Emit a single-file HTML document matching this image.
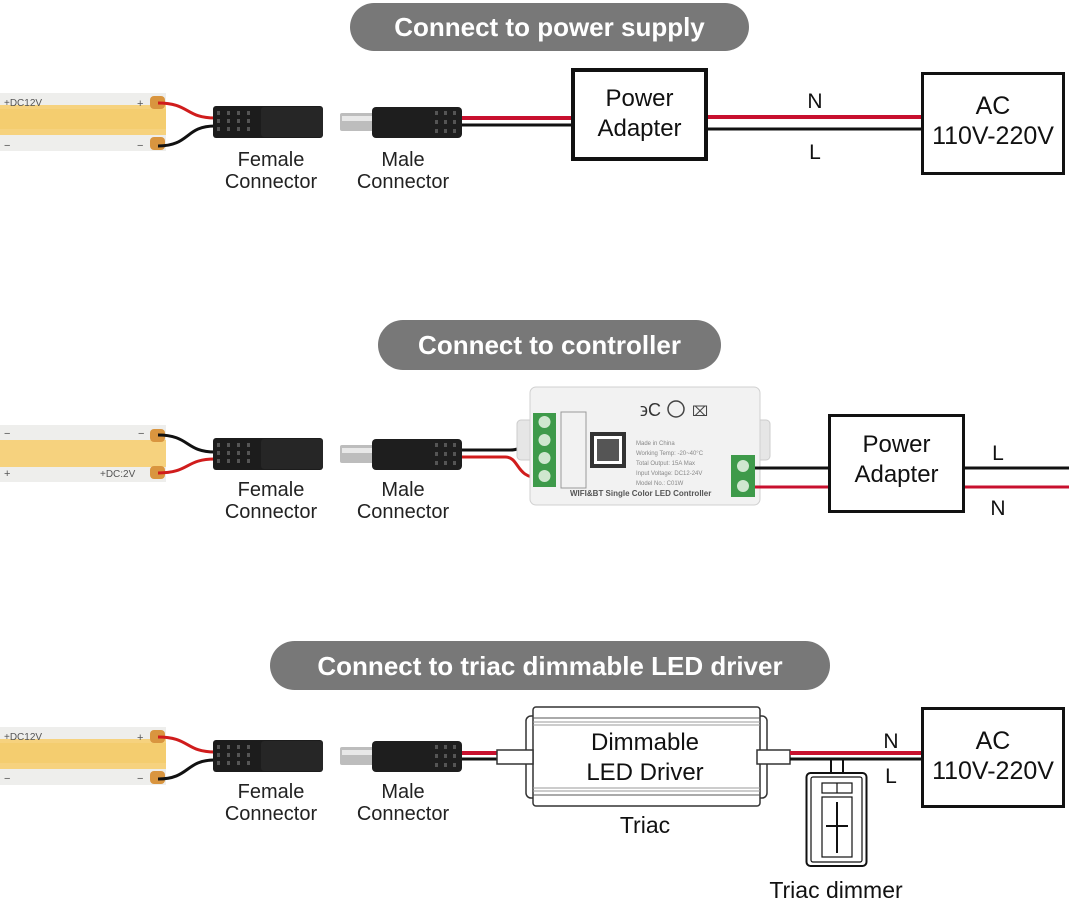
<!DOCTYPE html>
<html><head><meta charset="utf-8">
<style>
html,body{margin:0;padding:0;background:#fff;}
svg{display:block;}
text{font-family:"Liberation Sans","DejaVu Sans",sans-serif;}
</style></head>
<body>
<svg width="1069" height="901" viewBox="0 0 1069 901" xmlns="http://www.w3.org/2000/svg">
<defs>
  <g id="strip">
    <rect x="0" y="0" width="166" height="58" fill="#eeeeec"/>
    <rect x="0" y="12" width="166" height="30" fill="#f6d27e"/>
    <rect x="0" y="16" width="166" height="20" fill="#f3c965" opacity="0.6"/>
    <rect x="150" y="3" width="15" height="13" rx="4" fill="#d9953f"/>
    <rect x="150" y="44" width="15" height="13" rx="4" fill="#d9953f"/>
  </g>
  <g id="female">
    <rect x="0" y="0" width="110" height="32" rx="3" fill="#1c1c1c"/>
    <g fill="#555">
      <rect x="4" y="5" width="3" height="4"/><rect x="4" y="13" width="3" height="4"/><rect x="4" y="21" width="3" height="4"/>
      <rect x="14" y="5" width="3" height="4"/><rect x="14" y="13" width="3" height="4"/><rect x="14" y="21" width="3" height="4"/>
      <rect x="24" y="5" width="3" height="4"/><rect x="24" y="13" width="3" height="4"/><rect x="24" y="21" width="3" height="4"/>
      <rect x="34" y="5" width="3" height="4"/><rect x="34" y="13" width="3" height="4"/><rect x="34" y="21" width="3" height="4"/>
    </g>
    <rect x="48" y="1" width="62" height="30" rx="3" fill="#262626"/>
  </g>
  <g id="male">
    <rect x="0" y="6" width="34" height="18" rx="2" fill="#bdbdbd"/>
    <rect x="2" y="9" width="30" height="5" fill="#e8e8e8"/>
    <rect x="32" y="0" width="90" height="31" rx="4" fill="#1e1e1e"/>
    <g fill="#555">
      <rect x="95" y="4" width="3" height="4"/><rect x="95" y="13" width="3" height="4"/><rect x="95" y="22" width="3" height="4"/>
      <rect x="104" y="4" width="3" height="4"/><rect x="104" y="13" width="3" height="4"/><rect x="104" y="22" width="3" height="4"/>
      <rect x="113" y="4" width="3" height="4"/><rect x="113" y="13" width="3" height="4"/><rect x="113" y="22" width="3" height="4"/>
    </g>
  </g>
</defs>

<!-- ===== Section 1 ===== -->
<rect x="350" y="3" width="399" height="48" rx="24" fill="#787878"/>
<text x="549.5" y="36" font-size="26" font-weight="bold" fill="#fff" text-anchor="middle">Connect to power supply</text>
<use href="#strip" x="0" y="93"/>
<text x="4" y="106" font-size="10" fill="#555">+DC12V</text>
<text x="137" y="107" font-size="11" fill="#555">+</text>
<text x="4" y="149" font-size="11" fill="#555">−</text>
<text x="137" y="149" font-size="11" fill="#555">−</text>
<path d="M158 103 C190 103,185 118,215 118" stroke="#d01c1c" stroke-width="3" fill="none"/>
<path d="M158 146 C190 146,185 126,215 126" stroke="#111" stroke-width="3" fill="none"/>
<use href="#female" x="213" y="106"/>
<use href="#male" x="340" y="107"/>
<line x1="462" y1="118" x2="572" y2="118" stroke="#c8102e" stroke-width="4"/>
<line x1="462" y1="125" x2="572" y2="125" stroke="#111" stroke-width="3"/>
<text x="271" y="166" font-size="20" fill="#222" text-anchor="middle">Female</text>
<text x="271" y="188" font-size="20" fill="#222" text-anchor="middle">Connector</text>
<text x="403" y="166" font-size="20" fill="#222" text-anchor="middle">Male</text>
<text x="403" y="188" font-size="20" fill="#222" text-anchor="middle">Connector</text>
<rect x="573" y="70" width="133" height="89" fill="#fff" stroke="#111" stroke-width="4"/>
<text x="639.5" y="106" font-size="24" fill="#111" text-anchor="middle">Power</text>
<text x="639.5" y="136" font-size="24" fill="#111" text-anchor="middle">Adapter</text>
<line x1="708" y1="117" x2="922" y2="117" stroke="#c8102e" stroke-width="4"/>
<line x1="708" y1="129" x2="922" y2="129" stroke="#111" stroke-width="3"/>
<text x="815" y="108" font-size="21" fill="#111" text-anchor="middle">N</text>
<text x="815" y="159" font-size="21" fill="#111" text-anchor="middle">L</text>
<rect x="922.5" y="73.5" width="141" height="100" fill="#fff" stroke="#111" stroke-width="3"/>
<text x="993" y="114" font-size="25" fill="#111" text-anchor="middle">AC</text>
<text x="993" y="144" font-size="25" fill="#111" text-anchor="middle">110V-220V</text>

<!-- ===== Section 2 ===== -->
<rect x="378" y="320" width="343" height="50" rx="25" fill="#787878"/>
<text x="549.5" y="354" font-size="26" font-weight="bold" fill="#fff" text-anchor="middle">Connect to controller</text>
<rect x="0" y="425" width="166" height="57" fill="#eeeeec"/>
<rect x="0" y="440" width="166" height="27" fill="#f6d27e"/>
<rect x="150" y="429" width="15" height="13" rx="4" fill="#d9953f"/>
<rect x="150" y="466" width="15" height="13" rx="4" fill="#d9953f"/>
<text x="4" y="437" font-size="11" fill="#555">−</text>
<text x="138" y="437" font-size="11" fill="#555">−</text>
<text x="4" y="477" font-size="11" fill="#555">+</text>
<text x="100" y="477" font-size="10" fill="#555">+DC:2V</text>
<path d="M158 435 C190 435,185 452,215 452" stroke="#111" stroke-width="3" fill="none"/>
<path d="M158 473 C190 473,185 459,215 459" stroke="#d01c1c" stroke-width="3" fill="none"/>
<use href="#female" x="213" y="438"/>
<use href="#male" x="340" y="439"/>
<path d="M462 450 L510 450 C525 450,525 440,540 440" stroke="#111" stroke-width="3" fill="none"/>
<path d="M462 457 L505 457 C520 457,515 478,540 478" stroke="#d01c1c" stroke-width="3" fill="none"/>
<text x="271" y="496" font-size="20" fill="#222" text-anchor="middle">Female</text>
<text x="271" y="518" font-size="20" fill="#222" text-anchor="middle">Connector</text>
<text x="403" y="496" font-size="20" fill="#222" text-anchor="middle">Male</text>
<text x="403" y="518" font-size="20" fill="#222" text-anchor="middle">Connector</text>
<!-- controller -->
<rect x="517" y="420" width="20" height="40" rx="4" fill="#e6e6e6" stroke="#ccc"/>
<rect x="750" y="420" width="20" height="40" rx="4" fill="#e6e6e6" stroke="#ccc"/>
<rect x="530" y="387" width="230" height="118" rx="6" fill="#f2f2f2" stroke="#d0d0d0"/>
<rect x="533" y="413" width="23" height="74" fill="#3e9a4a"/>
<circle cx="544.5" cy="422" r="6" fill="#cfe7cf"/><circle cx="544.5" cy="440" r="6" fill="#cfe7cf"/>
<circle cx="544.5" cy="458" r="6" fill="#cfe7cf"/><circle cx="544.5" cy="476" r="6" fill="#cfe7cf"/>
<rect x="561" y="412" width="25" height="76" fill="none" stroke="#999" stroke-width="1"/>
<rect x="590" y="432" width="36" height="36" fill="#333"/>
<rect x="594" y="436" width="28" height="28" fill="#fff"/>
<rect x="597" y="439" width="22" height="22" fill="#555"/>
<g fill="#888" font-size="6">
<text x="636" y="445">Made in China</text>
<text x="636" y="455">Working Temp: -20~40°C</text>
<text x="636" y="465">Total Output: 15A Max</text>
<text x="636" y="475">Input Voltage: DC12-24V</text>
<text x="636" y="485">Model No.: C01W</text>
</g>
<text x="570" y="496" font-size="8" font-weight="bold" fill="#555">WIFI&amp;BT Single Color LED Controller</text>
<text x="640" y="416" font-size="18" fill="#333">϶C</text>
<circle cx="676" cy="409" r="8" fill="none" stroke="#444" stroke-width="1.5"/>
<text x="692" y="416" font-size="14" fill="#444">⌧</text>
<rect x="731" y="455" width="24" height="42" fill="#3e9a4a"/>
<circle cx="743" cy="466" r="6" fill="#cfe7cf"/><circle cx="743" cy="486" r="6" fill="#cfe7cf"/>
<line x1="755" y1="468" x2="1069" y2="468" stroke="#111" stroke-width="3"/>
<line x1="755" y1="487" x2="1069" y2="487" stroke="#c8102e" stroke-width="3"/>
<rect x="829.5" y="415.5" width="134" height="96" fill="#fff" stroke="#111" stroke-width="3"/>
<text x="896.5" y="452" font-size="24" fill="#111" text-anchor="middle">Power</text>
<text x="896.5" y="482" font-size="24" fill="#111" text-anchor="middle">Adapter</text>
<text x="998" y="460" font-size="21" fill="#111" text-anchor="middle">L</text>
<text x="998" y="515" font-size="21" fill="#111" text-anchor="middle">N</text>

<!-- ===== Section 3 ===== -->
<rect x="270" y="641" width="560" height="49" rx="24.5" fill="#787878"/>
<text x="550" y="675" font-size="26" font-weight="bold" fill="#fff" text-anchor="middle">Connect to triac dimmable LED driver</text>
<use href="#strip" x="0" y="727"/>
<text x="4" y="740" font-size="10" fill="#555">+DC12V</text>
<text x="137" y="741" font-size="11" fill="#555">+</text>
<text x="4" y="782" font-size="11" fill="#555">−</text>
<text x="137" y="782" font-size="11" fill="#555">−</text>
<path d="M158 737 C190 737,185 752,215 752" stroke="#d01c1c" stroke-width="3" fill="none"/>
<path d="M158 779 C190 779,185 760,215 760" stroke="#111" stroke-width="3" fill="none"/>
<use href="#female" x="213" y="740"/>
<use href="#male" x="340" y="741"/>
<line x1="462" y1="753" x2="500" y2="753" stroke="#c8102e" stroke-width="4"/>
<line x1="462" y1="759" x2="500" y2="759" stroke="#111" stroke-width="3"/>
<text x="271" y="798" font-size="20" fill="#222" text-anchor="middle">Female</text>
<text x="271" y="820" font-size="20" fill="#222" text-anchor="middle">Connector</text>
<text x="403" y="798" font-size="20" fill="#222" text-anchor="middle">Male</text>
<text x="403" y="820" font-size="20" fill="#222" text-anchor="middle">Connector</text>
<!-- driver -->
<rect x="526" y="716" width="12" height="82" rx="5" fill="#fff" stroke="#333" stroke-width="1.5"/>
<rect x="755" y="716" width="12" height="82" rx="5" fill="#fff" stroke="#333" stroke-width="1.5"/>
<rect x="533" y="707" width="227" height="99" rx="3" fill="#fff" stroke="#333" stroke-width="1.5"/>
<line x1="533" y1="718" x2="760" y2="718" stroke="#555"/>
<line x1="533" y1="722" x2="760" y2="722" stroke="#999"/>
<line x1="533" y1="725" x2="760" y2="725" stroke="#999"/>
<line x1="533" y1="788" x2="760" y2="788" stroke="#999"/>
<line x1="533" y1="791" x2="760" y2="791" stroke="#999"/>
<line x1="533" y1="795" x2="760" y2="795" stroke="#555"/>
<rect x="497" y="750" width="36" height="14" fill="#fff" stroke="#333" stroke-width="1.5"/>
<rect x="757" y="750" width="33" height="14" fill="#fff" stroke="#333" stroke-width="1.5"/>
<text x="645" y="750" font-size="24" fill="#111" text-anchor="middle">Dimmable</text>
<text x="645" y="780" font-size="24" fill="#111" text-anchor="middle">LED Driver</text>
<text x="645" y="833" font-size="23" fill="#111" text-anchor="middle">Triac</text>
<line x1="790" y1="753" x2="922" y2="753" stroke="#c8102e" stroke-width="4"/>
<line x1="790" y1="759" x2="922" y2="759" stroke="#111" stroke-width="3"/>
<text x="891" y="748" font-size="21" fill="#111" text-anchor="middle">N</text>
<text x="891" y="783" font-size="21" fill="#111" text-anchor="middle">L</text>
<line x1="831" y1="759" x2="831" y2="773" stroke="#111" stroke-width="2"/>
<line x1="843" y1="759" x2="843" y2="773" stroke="#111" stroke-width="2"/>
<rect x="806.5" y="773" width="60" height="93" rx="4" fill="#fff" stroke="#111" stroke-width="2"/>
<rect x="811" y="777" width="51" height="85" rx="2" fill="#fff" stroke="#111" stroke-width="1.2"/>
<rect x="822" y="783" width="30" height="10" fill="#fff" stroke="#111" stroke-width="1.2"/>
<line x1="837" y1="783" x2="837" y2="793" stroke="#111" stroke-width="1.2"/>
<rect x="822" y="797" width="30" height="60" fill="#fff" stroke="#111" stroke-width="1.2"/>
<line x1="837" y1="802" x2="837" y2="853" stroke="#111" stroke-width="2"/>
<line x1="826" y1="826" x2="848" y2="826" stroke="#111" stroke-width="2"/>
<text x="836" y="898" font-size="23" fill="#111" text-anchor="middle">Triac dimmer</text>
<rect x="922.5" y="708.5" width="141" height="98" fill="#fff" stroke="#111" stroke-width="3"/>
<text x="993" y="749" font-size="25" fill="#111" text-anchor="middle">AC</text>
<text x="993" y="779" font-size="25" fill="#111" text-anchor="middle">110V-220V</text>
</svg>
</body></html>
